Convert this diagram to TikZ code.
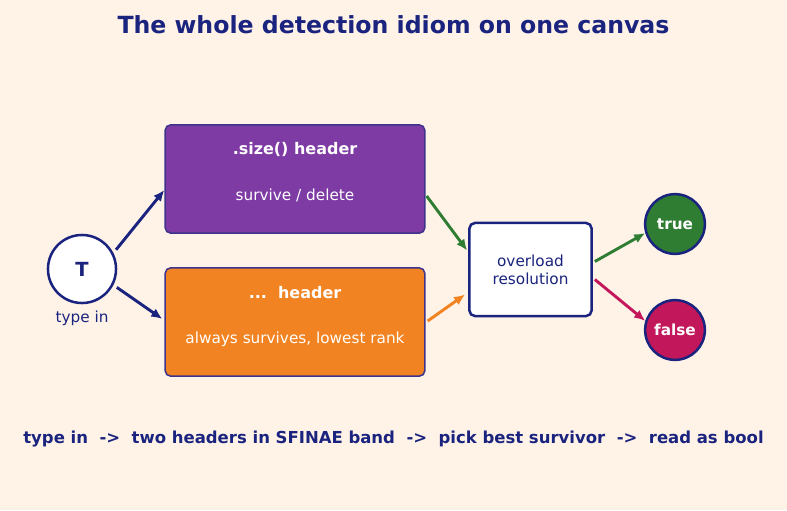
\documentclass[tikz,border=0pt]{standalone}
\usepackage{fontspec}
\setmainfont{DejaVu Sans}
\usetikzlibrary{arrows.meta,positioning,calc}
\definecolor{idnavy}{RGB}{26,35,126}
\definecolor{idpurple}{RGB}{126,59,164}
\definecolor{idorange}{RGB}{242,131,34}
\definecolor{idgreen}{RGB}{46,125,50}
\definecolor{idcrimson}{RGB}{194,24,91}
\definecolor{idcream}{RGB}{255,243,232}
\definecolor{idedge}{RGB}{62,52,140}

\begin{document}
\begin{tikzpicture}[
  x=0.72pt, y=-0.72pt,
  hdrbox/.style={rectangle, rounded corners=4pt, draw=idedge, line width=1.1pt, minimum width=187pt, minimum height=78pt},
  hdrtitle/.style={text=white, font=\fontsize{11.5}{13}\selectfont\bfseries},
  hdrsub/.style={text=white, font=\fontsize{11}{13}\selectfont},
  ball/.style={circle, draw=idnavy, line width=1.8pt, minimum size=43pt, inner sep=0pt, text=white, font=\fontsize{11}{13}\selectfont\bfseries},
  arrow/.style={-{Latex[length=8pt,width=7pt]}, line width=2.1pt}
]

% Canvas
\fill[idcream] (0,0) rectangle (787,510);
\useasboundingbox (0,0) rectangle (787,510);

\node[text=idnavy, font=\fontsize{17}{20}\selectfont\bfseries] (title) at (393.5,25) {The whole detection idiom on one canvas};

% Input type
\node[circle, draw=idnavy, fill=white, line width=1.8pt, minimum size=49pt, inner sep=0pt, text=idnavy, font=\fontsize{14}{16}\selectfont\bfseries] (T) at (82,269) {T};
\node[text=idnavy, font=\fontsize{11}{13}\selectfont, below=1pt of T] (typein) {type in};

% The two headers
\node[hdrbox, fill=idpurple] (size) at (295,179) {};
\node[hdrtitle] (sizettl) at ($(size.north)+(0,25)$) {.size() header};
\node[hdrsub] (sizesub) at ($(size.north)+(0,71)$) {survive / delete};

\node[hdrbox, fill=idorange] (dots) at (295,322) {};
\node[hdrtitle] (dotsttl) at ($(dots.north)+(0,25)$) {...\ \ header};
\node[hdrsub] (dotssub) at ($(dots.north)+(0,72)$) {always survives, lowest rank};

% Resolution and result
\node[rectangle, rounded corners=4pt, draw=idnavy, fill=white, line width=1.8pt, minimum width=88pt, minimum height=67pt, align=center, text=idnavy, font=\fontsize{11}{13}\selectfont] (res) at (530.5,269.5) {overload\\resolution};

\node[ball, fill=idgreen] (true) at (675,224) {true};
\node[ball, fill=idcrimson] (false) at (675,330) {false};

% Arrows
\draw[arrow, idnavy, shorten <=3pt] (T.27) -- ($(size.west)+(0,11)$);
\draw[arrow, idnavy, shorten <=3pt] (T.-27) -- ($(dots.west)+(-2,-3)$);
\draw[arrow, idgreen] ($(size.east)+(1,17)$) -- ($(res.west)+(-1,-19)$);
\draw[arrow, idorange] ($(dots.east)+(2,-1)$) -- ($(res.west)+(-3,25)$);
\draw[arrow, idgreen] ($(res.east)+(2,-8)$) -- (true.197);
\draw[arrow, idcrimson] ($(res.east)+(2,10)$) -- (false.163);

% Caption
\node[text=idnavy, font=\fontsize{11.87}{14}\selectfont\bfseries] (caption) at (393.5,439.5) {type in\ \ ->\ \ two headers in SFINAE band\ \ ->\ \ pick best survivor\ \ ->\ \ read as bool};

\end{tikzpicture}
\end{document}
